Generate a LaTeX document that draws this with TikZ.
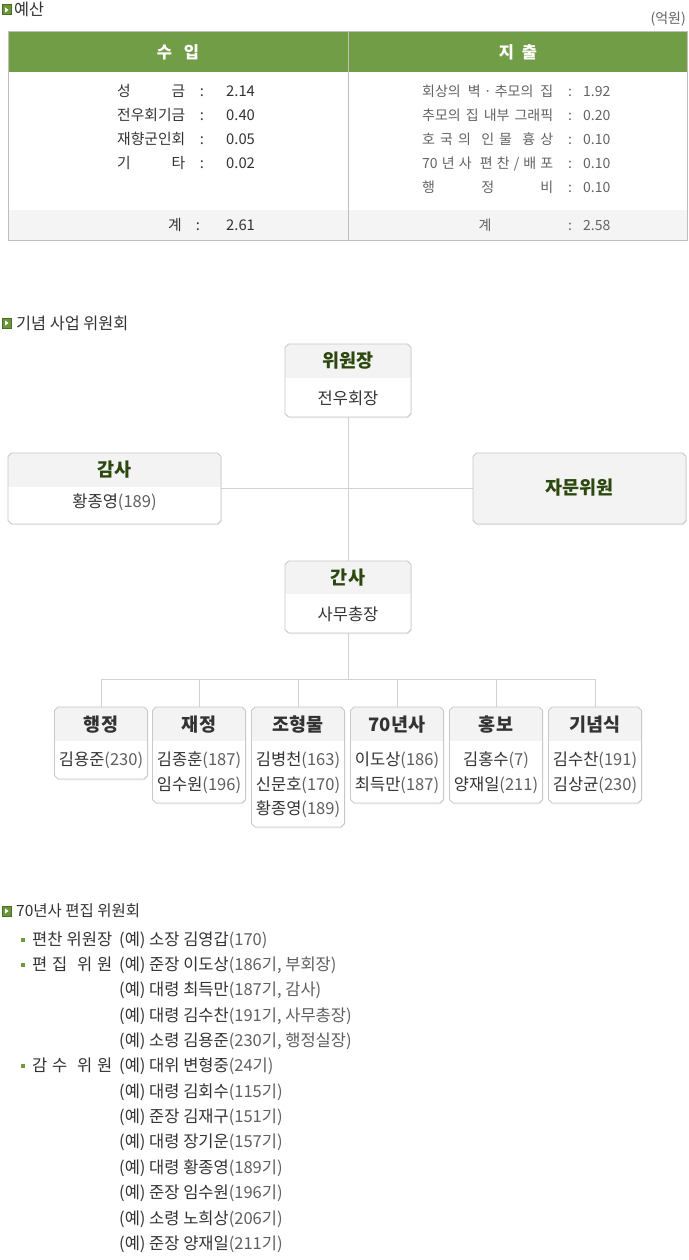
\documentclass[tikz,border=0pt]{standalone}
\usepackage{fontspec}
\setmainfont{Noto Sans CJK KR}
\usetikzlibrary{shadows}
\definecolor{hdrgreen}{RGB}{113,157,70}
\definecolor{icondark}{RGB}{72,110,36}
\definecolor{iconlight}{RGB}{106,150,58}
\definecolor{bulgreen}{RGB}{110,155,60}
\definecolor{boxline}{RGB}{200,200,200}
\definecolor{boxhdr}{RGB}{243,243,243}
\definecolor{ttlgreen}{RGB}{44,72,14}
\definecolor{txtdark}{RGB}{51,51,51}
\definecolor{txtgray}{RGB}{100,100,100}
\definecolor{numgray}{RGB}{95,95,95}
\definecolor{tline}{RGB}{190,190,190}
\definecolor{totfill}{RGB}{244,244,244}
\definecolor{conn}{RGB}{210,210,210}
\newcommand\gp[1]{{\color{numgray}#1}}
% chamfered outline of a node
\newcommand\chpath[1]{([xshift=3.5pt]#1.north west) -- ([xshift=-3.5pt]#1.north east)
  -- ([yshift=-3.5pt]#1.north east) -- ([yshift=3.5pt]#1.south east)
  -- ([xshift=-3.5pt]#1.south east) -- ([xshift=3.5pt]#1.south west)
  -- ([yshift=3.5pt]#1.south west) -- ([yshift=-3.5pt]#1.north west) -- cycle}
% #1 node name, #2 header height (pt), #3 body fill
\newcommand\chambox[3]{%
  \fill[#3, drop shadow={shadow xshift=0.8pt, shadow yshift=-1pt, opacity=0.14}] \chpath{#1};
  \begin{scope}
    \clip \chpath{#1};
    \fill[boxhdr] (#1.north west) rectangle ([yshift=-#2pt]#1.north east);
  \end{scope}
  \draw[draw=boxline, line width=0.9pt] \chpath{#1};}
\begin{document}
\begin{tikzpicture}[x=1pt,y=-1pt,
  f14/.style={font=\fontsize{14}{16}\selectfont, inner sep=0pt, yshift=-5.2pt},
  f148/.style={font=\fontsize{14.8}{17}\selectfont, inner sep=0pt, yshift=-5.5pt},
  f155/.style={font=\fontsize{15.5}{18}\selectfont, inner sep=0pt, yshift=-5.7pt},
  f163/.style={font=\fontsize{16.3}{19}\selectfont, inner sep=0pt, yshift=-6pt},
  f165/.style={font=\fontsize{16.5}{19}\selectfont, inner sep=0pt, yshift=-6.1pt},
  f165b/.style={font=\fontsize{16.5}{19}\selectfont\bfseries, inner sep=0pt, yshift=-6.1pt},
  f185b/.style={font=\fontsize{18.5}{21}\selectfont\bfseries, inner sep=0pt, yshift=-6.8pt},
  ttl/.style={f185b, anchor=base, text=ttlgreen},
  ttlk/.style={f185b, anchor=base, text=txtdark},
  bod/.style={f165, anchor=base, text=txtdark},
  lt/.style={f148, text=txtdark},
  rt/.style={f14, text=txtgray},
  li/.style={f165, anchor=base west, text=txtdark},
  orgbox/.style={rectangle, inner sep=0pt, outer sep=0pt, anchor=north west},
  cline/.style={draw=conn, line width=0.9pt},
  secicon/.pic={
    \fill[icondark] (-5,-5.5) rectangle (5,5.5);
    \fill[iconlight] (-4,-4.5) rectangle (4,4.5);
    \fill[white] (-1.3,-2.5) -- (2,0) -- (-1.3,2.5) -- cycle;}
]
\useasboundingbox (0,0) rectangle (688,1260);
\fill[white] (0,0) rectangle (688,1260);

% ---------- section 1 : budget ----------
\pic at (6.5,10) {secicon};
\node[f163, anchor=base west, text=txtdark] (s1) at (14,10) {예산};
\node[f14, anchor=base east, text=txtgray] (unit) at (686,18) {(억원)};

\fill[hdrgreen] (8,31) rectangle (687,72);
\fill[totfill] (8,210) rectangle (687,240);
\draw[tline, line width=0.8pt] (348,31) -- (348,240);
\draw[tline, line width=0.8pt] (8,31) rectangle (687,240);

\node[f165b, anchor=base, text=white] (hin) at (178,52) {수\hspace{12pt}입};
\node[f165b, anchor=base, text=white] (hout) at (518,52) {지\hspace{8pt}출};

\node[lt, anchor=base west] (l1) at (117,91) {\makebox[68pt]{성\hfill 금}};
\node[lt, anchor=base west] (l2) at (117,115) {\makebox[68pt]{전우회기금}};
\node[lt, anchor=base west] (l3) at (117,139) {\makebox[68pt]{재향군인회}};
\node[lt, anchor=base west] (l4) at (117,163) {\makebox[68pt]{기\hfill 타}};
\node[lt, anchor=base] (c1) at (202,91) {:};
\node[lt, anchor=base] (c2) at (202,115) {:};
\node[lt, anchor=base] (c3) at (202,139) {:};
\node[lt, anchor=base] (c4) at (202,163) {:};
\node[lt, anchor=base west] (v1) at (226,91) {2.14};
\node[lt, anchor=base west] (v2) at (226,115) {0.40};
\node[lt, anchor=base west] (v3) at (226,139) {0.05};
\node[lt, anchor=base west] (v4) at (226,163) {0.02};
\node[lt, anchor=base] (lts) at (175,225) {계};
\node[lt, anchor=base] (cts) at (198,225) {:};
\node[lt, anchor=base west] (vts) at (226,225) {2.61};

\node[rt, anchor=base west] (r1) at (422,91) {\makebox[131pt]{회상의\hfill 벽 · 추모의\hfill 집}};
\node[rt, anchor=base west] (r2) at (422,115) {\makebox[131pt]{추모의\hfill 집\hfill 내부\hfill 그래픽}};
\node[rt, anchor=base west] (r3) at (422,139) {\makebox[131pt]{호\hfill 국\hfill 의\hfill\hfill 인\hfill 물\hfill\hfill 흉\hfill 상}};
\node[rt, anchor=base west] (r4) at (422,163) {\makebox[131pt]{70\hfill 년\hfill 사\hfill\hfill 편\hfill 찬\hfill /\hfill 배\hfill 포}};
\node[rt, anchor=base west] (r5) at (422,187) {\makebox[131pt]{행\hfill 정\hfill 비}};
\node[rt, anchor=base] (rc1) at (570,91) {:};
\node[rt, anchor=base] (rc2) at (570,115) {:};
\node[rt, anchor=base] (rc3) at (570,139) {:};
\node[rt, anchor=base] (rc4) at (570,163) {:};
\node[rt, anchor=base] (rc5) at (570,187) {:};
\node[rt, anchor=base west] (rv1) at (583,91) {1.92};
\node[rt, anchor=base west] (rv2) at (583,115) {0.20};
\node[rt, anchor=base west] (rv3) at (583,139) {0.10};
\node[rt, anchor=base west] (rv4) at (583,163) {0.10};
\node[rt, anchor=base west] (rv5) at (583,187) {0.10};
\node[rt, anchor=base] (rts) at (485,225) {계};
\node[rt, anchor=base] (rcts) at (570,225) {:};
\node[rt, anchor=base west] (rvts) at (583,225) {2.58};

% ---------- section 2 : committee ----------
\pic at (6.5,323) {secicon};
\node[f163, anchor=base west, text=txtdark] (s2) at (16,323) {기념 사업 위원회};

\node[orgbox, minimum width=126pt, minimum height=73pt] (wjh) at (285,344) {};
\node[orgbox, minimum width=213pt, minimum height=71pt] (gamsa) at (8,453) {};
\node[orgbox, minimum width=213pt, minimum height=71pt] (jamun) at (473,453) {};
\node[orgbox, minimum width=126pt, minimum height=72pt] (gansa) at (285,561) {};
\node[orgbox, minimum width=93pt, minimum height=72pt] (b1) at (54.5,707) {};
\node[orgbox, minimum width=93pt, minimum height=96pt] (b2) at (152.5,707) {};
\node[orgbox, minimum width=93pt, minimum height=120pt] (b3) at (251.5,707) {};
\node[orgbox, minimum width=93pt, minimum height=96pt] (b4) at (350.5,707) {};
\node[orgbox, minimum width=93pt, minimum height=96pt] (b5) at (449.5,707) {};
\node[orgbox, minimum width=93pt, minimum height=96pt] (b6) at (548.5,707) {};

\coordinate (bar) at (348,679);
\draw[cline] (wjh.south) -- (gansa.north);
\draw[cline] (gamsa.east) -- (jamun.west);
\draw[cline] (gansa.south) -- (bar);
\draw[cline] (b1.north |- bar) -- (b6.north |- bar);
\foreach \b in {b1,b2,b3,b4,b5,b6} {\draw[cline] (\b.north |- bar) -- (\b.north);}

\chambox{wjh}{34}{white}
\chambox{gamsa}{34}{white}
\chambox{jamun}{0}{boxhdr}
\chambox{gansa}{33}{white}
\foreach \b in {b1,b2,b3,b4,b5,b6} {\chambox{\b}{34}{white}}

\node[ttl] (wjht) at (348,361) {위원장};
\node[bod] (wjhb) at (348,398) {전우회장};
\node[ttl] (gamsat) at (114.5,470) {감사};
\node[bod] (gamsab) at (114.5,501) {황종영\gp{(189)}};
\node[ttl] (jamunt) at (579.5,488) {자문위원};
\node[ttl] (gansat) at (348,578) {간사};
\node[bod] (gansab) at (348,614) {사무총장};

\node[ttlk] (b1t) at (101,725) {행정};
\node[bod] (b1a) at (101,759) {김용준\gp{(230)}};

\node[ttlk] (b2t) at (199,725) {재정};
\node[bod] (b2a) at (199,759) {김종훈\gp{(187)}};
\node[bod] (b2b) at (199,784) {임수원\gp{(196)}};

\node[ttlk] (b3t) at (298,725) {조형물};
\node[bod] (b3a) at (298,759) {김병천\gp{(163)}};
\node[bod] (b3b) at (298,784) {신문호\gp{(170)}};
\node[bod] (b3c) at (298,808) {황종영\gp{(189)}};

\node[ttlk] (b4t) at (397,725) {70년사};
\node[bod] (b4a) at (397,759) {이도상\gp{(186)}};
\node[bod] (b4b) at (397,784) {최득만\gp{(187)}};

\node[ttlk] (b5t) at (496,725) {홍보};
\node[bod] (b5a) at (496,759) {김홍수\gp{(7)}};
\node[bod] (b5b) at (496,784) {양재일\gp{(211)}};

\node[ttlk] (b6t) at (595,725) {기념식};
\node[bod] (b6a) at (595,759) {김수찬\gp{(191)}};
\node[bod] (b6b) at (595,784) {김상균\gp{(230)}};

% ---------- section 3 : editorial committee ----------
\pic at (6.5,911) {secicon};
\node[f155, anchor=base west, text=txtdark] (s3) at (16,911) {70년사 편집 위원회};

\foreach \y in {939,964.4,1065.8} {\fill[bulgreen] (21,\y-1.5) rectangle (25,\y+2.5);}
\node[li] (k1) at (32,939) {\makebox[80pt]{편찬\hfill 위원장}};
\node[li] (k2) at (32,964.4) {\makebox[80pt]{편\hfill 집\hfill\hfill 위\hfill 원}};
\node[li] (k3) at (32,1065.8) {\makebox[80pt]{감\hfill 수\hfill\hfill 위\hfill 원}};

\node[li] (e1) at (119,939) {(예) 소장 김영갑\gp{(170)}};
\node[li] (e2) at (119,964.4) {(예) 준장 이도상\gp{(186기, 부회장)}};
\node[li] (e3) at (119,989.7) {(예) 대령 최득만\gp{(187기, 감사)}};
\node[li] (e4) at (119,1015) {(예) 대령 김수찬\gp{(191기, 사무총장)}};
\node[li] (e5) at (119,1040.4) {(예) 소령 김용준\gp{(230기, 행정실장)}};
\node[li] (e6) at (119,1065.8) {(예) 대위 변형중\gp{(24기)}};
\node[li] (e7) at (119,1091.1) {(예) 대령 김회수\gp{(115기)}};
\node[li] (e8) at (119,1116.5) {(예) 준장 김재구\gp{(151기)}};
\node[li] (e9) at (119,1141.8) {(예) 대령 장기운\gp{(157기)}};
\node[li] (e10) at (119,1167.2) {(예) 대령 황종영\gp{(189기)}};
\node[li] (e11) at (119,1192.5) {(예) 준장 임수원\gp{(196기)}};
\node[li] (e12) at (119,1217.9) {(예) 소령 노희상\gp{(206기)}};
\node[li] (e13) at (119,1243.2) {(예) 준장 양재일\gp{(211기)}};
\end{tikzpicture}
\end{document}
